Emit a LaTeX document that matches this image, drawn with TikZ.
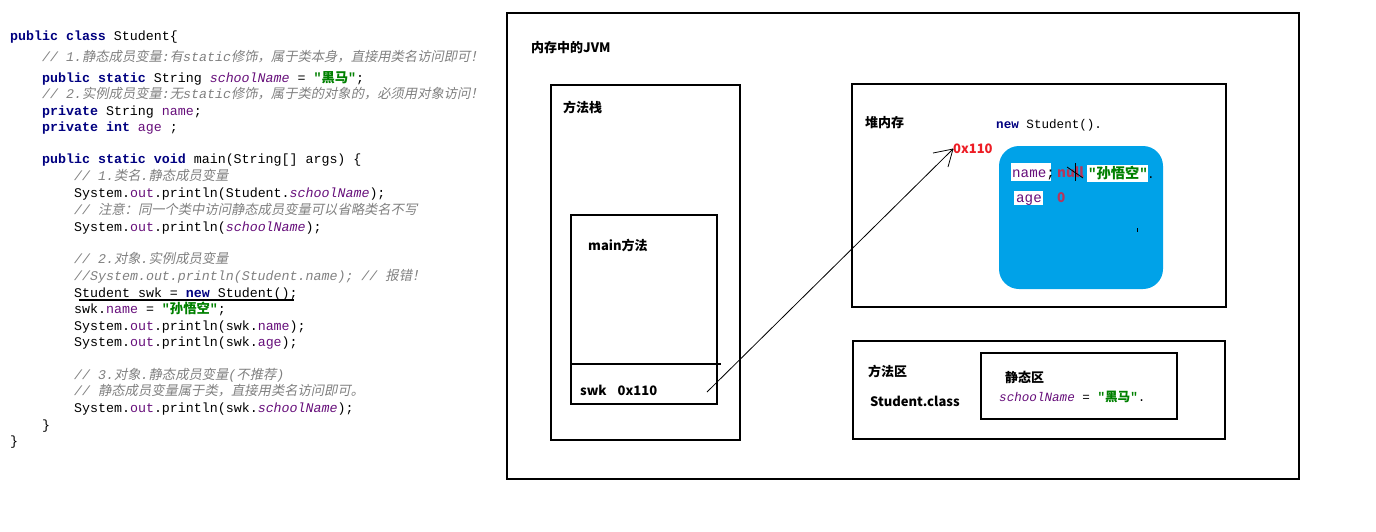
\documentclass[tikz,border=0pt]{standalone}
\usepackage{fontspec}
\setmainfont{Liberation Sans}
\newfontfamily\mono{Liberation Mono}
\newfontfamily\cjk{Noto Sans CJK SC}
\newfontfamily\cjkit{Noto Sans CJK SC}[FakeSlant=0.2]
\definecolor{kwc}{HTML}{000080}
\definecolor{fldc}{HTML}{660E7A}
\definecolor{strc}{HTML}{008000}
\definecolor{cmc}{HTML}{808080}
\definecolor{addrred}{HTML}{ED1C24}
\definecolor{nullred}{HTML}{B8345A}
\definecolor{heapblue}{HTML}{00A2E8}
\newcommand\jkw[1]{{\color{kwc}\bfseries #1}}
\newcommand\jfld[1]{{\color{fldc}#1}}
\newcommand\jsf[1]{{\color{fldc}\itshape #1}}
\newcommand\jstr[1]{{\color{strc}\bfseries #1}}
\newcommand\jcm[1]{{\color{cmc}\itshape #1}}
\newcommand\zh[1]{{\cjk #1}}
\newcommand\zhi[1]{{\cjkit #1}}
\tikzset{
  code/.style={anchor=base west, inner sep=0pt, font=\mono\fontsize{13.3}{16}\selectfont},
  codesm/.style={anchor=base west, inner sep=0pt, font=\mono\fontsize{12.6}{15}\selectfont},
  codebig/.style={anchor=base west, inner sep=0pt, font=\mono\fontsize{14.2}{16}\selectfont},
  lab/.style={anchor=base west, inner sep=0pt, font=\cjk\bfseries\fontsize{13}{15}\selectfont},
  redval/.style={anchor=base west, inner sep=0pt, text=nullred, font=\cjk\bfseries\fontsize{13.5}{15}\selectfont},
  box/.style={draw=black, line width=1.3pt},
}
\begin{document}
\begin{tikzpicture}[x=1pt,y=-1pt]
\useasboundingbox (0,0) rectangle (1376,531);
% ---------------- code ----------------
\node[code] (c1) at (10,40) {\jkw{public class} Student\{};
\node[code] (c2) at (42,61) {\jcm{// 1.\zhi{静态成员变量}:\zhi{有}static\zhi{修饰，属于类本身，直接用类名访问即可！}}};
\node[code] (c3) at (42,82) {\jkw{public static} String \jsf{schoolName} = \jstr{"\zh{黑马}"};};
\node[code] (c4) at (42,98) {\jcm{// 2.\zhi{实例成员变量}:\zhi{无}static\zhi{修饰，属于类的对象的，必须用对象访问！}}};
\node[code] (c5) at (42,115) {\jkw{private} String \jfld{name};};
\node[code] (c6) at (42,131) {\jkw{private int} \jfld{age} ;};
\node[code] (c7) at (42,163) {\jkw{public static void} main(String[] args) \{};
\node[code] (c8) at (74,180) {\jcm{// 1.\zhi{类名}.\zhi{静态成员变量}}};
\node[code] (c9) at (74,197) {System.\jfld{out}.println(Student.\jsf{schoolName});};
\node[code] (c10) at (74,214) {\jcm{// \zhi{注意：同一个类中访问静态成员变量可以省略类名不写}}};
\node[code] (c11) at (74,231) {System.\jfld{out}.println(\jsf{schoolName});};
\node[code] (c12) at (74,263) {\jcm{// 2.\zhi{对象}.\zhi{实例成员变量}}};
\node[code] (c13) at (74,280) {\jcm{//System.out.println(Student.name); // \zhi{报错！}}};
\node[code] (c14) at (74,297) {Student swk = \jkw{new} Student();};
\draw[line width=1.1pt] (79,300) -- (294,300);
\node[code] (c15) at (74,313) {swk.\jfld{name} = \jstr{"\zh{孙悟空}"};};
\node[code] (c16) at (74,330) {System.\jfld{out}.println(swk.\jfld{name});};
\node[code] (c17) at (74,346) {System.\jfld{out}.println(swk.\jfld{age});};
\node[code] (c18) at (74,379) {\jcm{// 3.\zhi{对象}.\zhi{静态成员变量}(\zhi{不推荐})}};
\node[code] (c19) at (74,395) {\jcm{// \zhi{静态成员变量属于类，直接用类名访问即可。}}};
\node[code] (c20) at (74,412) {System.\jfld{out}.println(swk.\jsf{schoolName});};
\node[code] (c21) at (42,429) {\}};
\node[code] (c22) at (10,445) {\}};
% ---------------- JVM ----------------
\draw[box] (507,13) rectangle (1299,479);
\node[lab] (jvm) at (531,52) {内存中的JVM};
% method stack
\draw[box] (551,85) rectangle (740,440);
\node[lab] (stack) at (563,112) {方法栈};
\draw[box] (571,215) rectangle (717,404);
\node[lab] (mainm) at (588,250) {main方法};
\draw[box] (571,364) -- (721,364);
\node[lab] (swk) at (580,395) {swk\hspace{11pt}0x110};
% heap
\draw[box] (852,84) rectangle (1226,307);
\node[lab] (heap) at (865,127) {堆内存};
\node[codesm] (newst) at (996,128) {\jkw{new} Student().};
\node[lab, text=addrred] (addr) at (953,153) {0x110};
\fill[heapblue, rounded corners=20pt] (999,146) rectangle (1163,289);
\fill[white] (1011,163) rectangle (1051,181);
\node[codebig] (nm) at (1012,177) {\jfld{name};};
\node[redval] (nullv) at (1057,177) {null};
\draw[line width=0.8pt] (1075,163) -- (1075,181);
\draw[line width=0.8pt] (1067,167) -- (1083,178);
\fill[white] (1087,165) rectangle (1148,182);
\node[codebig] (sv) at (1088,178) {\jstr{"\zh{孙悟空}"}};
\node[codesm] (dot1) at (1147,178) {.};
\fill[white] (1014,191) rectangle (1043,205);
\node[codebig] (ag) at (1016,202) {\jfld{age}};
\node[redval] (zero) at (1057,202) {0};
\draw[line width=0.8pt] (1137,228) -- (1137,232);
% method area
\draw[box] (853,341) rectangle (1225,439);
\node[lab] (marea) at (868,376) {方法区};
\node[lab] (stc) at (870,406) {Student.class};
\draw[box] (981,353) rectangle (1177,419);
\node[lab] (static) at (1005,382) {静态区};
\node[codesm] (sn) at (999,401) {\jsf{schoolName} = \jstr{"\zh{黑马}"}.};
% arrow
\coordinate (arrS) at (707,392);
\coordinate (arrE) at (953,149);
\coordinate (barbA) at (933,153);
\coordinate (barbB) at (948,167);
\draw[line width=0.8pt] (arrS) -- (arrE);
\draw[line width=0.8pt] (arrE) -- (barbA);
\draw[line width=0.8pt] (arrE) -- (barbB);
\end{tikzpicture}
\end{document}
